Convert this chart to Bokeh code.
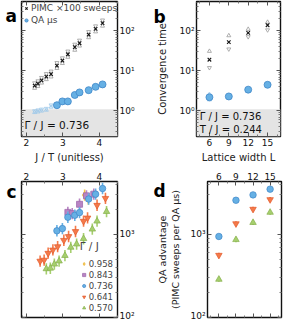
from bokeh.plotting import figure
from bokeh.models import (LogAxis, LinearAxis, FixedTicker, BoxAnnotation, Label,
                          Legend, LegendItem, Range1d)
from bokeh.layouts import row, column
from bokeh.embed import file_html
from bokeh.resources import INLINE

# ---------------- data ----------------
# panel a (Gamma/J = 0.736), x = J/T
a_x = [2.23, 2.32, 2.42, 2.55, 2.68, 2.84, 2.99, 3.14, 3.33, 3.46, 3.71, 3.90, 4.09]
a_pimc = [4.3, 4.8, 5.8, 7.2, 8.3, 13.6, 18, 26, 39, 49, 80, 112, 155]
a_pimc_hi = [5.0, 5.6, 6.8, 8.5, 9.8, 16, 21, 31, 46, 58, 95, 132, 185]
a_pimc_lo = [3.7, 4.1, 5.0, 6.1, 7.1, 11.6, 15.4, 22, 33, 42, 68, 95, 132]
a_qa_x = [2.84, 2.99, 3.14, 3.33, 3.46, 3.71, 3.90, 4.09]
a_qa = [1.39, 1.73, 1.73, 2.5, 2.9, 3.3, 4.0, 4.6]
a_qa_faint_x = [2.23, 2.32, 2.42, 2.55, 2.68]
a_qa_faint_hi = [1.0, 1.05, 1.1, 1.15, 1.4]
a_qa_faint_lo = [0.92, 0.95, 1.0, 1.05, 1.25]

# panel b (Gamma/J = 0.736, T/J = 0.244), x = lattice width L
b_L = [6, 9, 12, 15]
b_pimc = [19, 52, 89, 138]
b_pimc_hi = [31, 76, 110, 165]
b_pimc_lo = [12, 35, 71, 105]
b_qa = [2.2, 2.3, 3.4, 4.5]
b_qa_faint_L = [6, 6]
b_qa_faint = [2.6, 1.9]

# panel c: QA advantage vs J/T for several Gamma/J
c_x_958 = [3.60, 3.70]
c_y_958 = [2950, 2650]
c_x_843 = [3.14, 3.26, 3.46, 3.65, 3.85]
c_y_843 = [1830, 1770, 2290, 2890, 3030]
c_x_736 = [2.84, 2.99, 3.14, 3.33, 3.46, 3.71, 3.90, 4.09]
c_y_736 = [1100, 1170, 1600, 1690, 1820, 2650, 3030, 3540]
c_x_641 = [2.38, 2.49, 2.60, 2.73, 2.86, 3.03, 3.16, 3.35, 3.57, 3.68, 3.94, 4.17]
c_y_641 = [476, 489, 592, 648, 710, 846, 940, 1080, 1435, 1570, 2230, 2700]
c_x_570 = [2.55, 2.66, 2.77, 2.90, 3.06, 3.22, 3.38, 3.57, 3.81, 3.94, 4.20]
c_y_570 = [384, 390, 437, 476, 554, 696, 761, 884, 1150, 1435, 1870]

# panel d: QA advantage vs L
d_L = [6, 9, 12, 15]
d_736 = [940, 2560, 2970, 3480]
d_641 = [560, 1340, 2000, 2610]
d_570 = [287, 860, 1380, 1830]

gamma_labels = ["0.958", "0.843", "0.736", "0.641", "0.570"]

# ---------------- style ----------------
FONT = "DejaVu Sans"
TICK_FS = "9px"
LAB_FS = "10px"
BLUE_F, BLUE_L = "#66b0e4", "#3f86c8"
ORNG_F, ORNG_L = "#f47a4a", "#e25a2c"
GRN_F, GRN_L = "#a6cf6e", "#86b04c"
PURP_F, PURP_L = "#b884c4", "#9a62a8"
YEL_F, YEL_L = "#f7ca4c", "#eab132"
GRAY_BG = "#e4e4e4"

LOG_MINOR = [k * 10.0 ** e for e in range(-1, 4) for k in range(2, 10)]


def style_axis(ax, ticks, minor, overrides=None, show=True):
    ax.ticker = FixedTicker(ticks=ticks, minor_ticks=minor)
    ax.major_tick_in = 4
    ax.major_tick_out = 0
    ax.minor_tick_in = 2
    ax.minor_tick_out = 0
    ax.major_tick_line_color = "#555555"
    ax.minor_tick_line_color = "#777777"
    ax.axis_line_color = None
    ax.major_label_standoff = 2
    ax.major_label_text_font = FONT
    ax.major_label_text_font_size = TICK_FS
    ax.major_label_text_color = "#111111"
    ax.axis_label_text_font = FONT
    ax.axis_label_text_font_size = LAB_FS
    ax.axis_label_text_font_style = "normal"
    ax.axis_label_text_color = "#222222"
    ax.axis_label_standoff = 3
    if overrides:
        ax.major_label_overrides = overrides
    if not show:
        ax.major_label_text_font_size = "0px"
        ax.major_label_text_alpha = 0
        ax.major_label_standoff = 0


def base_fig(w, h, xr, yr, xloc, yloc, borders):
    p = figure(width=w, height=h, x_range=xr, y_range=yr, y_axis_type="log",
               x_axis_location=xloc, y_axis_location=yloc,
               toolbar_location=None, output_backend="svg",
               min_border_left=borders[0], min_border_right=borders[1],
               min_border_top=borders[2], min_border_bottom=borders[3])
    p.grid.visible = False
    p.outline_line_color = "#111111"
    p.outline_line_width = 1.4
    p.background_fill_color = "white"
    p.border_fill_color = "white"
    return p


dec_over = {0.1: "10⁻¹", 1: "10⁰", 10: "10¹", 100: "10²", 1000: "10³"}
jt_ticks = [2, 3, 4]
jt_minor = [1.9, 2.5, 3.5, 4.5]
L_ticks = [6, 9, 12, 15]
L_minor = [4.5, 7.5, 10.5, 13.5, 16.5]


def letter(p, txt, x, y):
    lab = Label(x=x, y=y, x_units="screen", y_units="screen", text=txt,
                text_font=FONT, text_font_style="bold", text_font_size="17px",
                text_color="#000000", text_baseline="alphabetic")
    p.add_layout(lab, "left")


# ---------------- panel a ----------------
pa = base_fig(142, 166, Range1d(1.87, 4.5), Range1d(0.23, 540), "below", "right",
              (21, 25, 1, 30))
style_axis(pa.xaxis[0], jt_ticks, jt_minor)
pa.xaxis[0].axis_label = "J / T (unitless)"
style_axis(pa.yaxis[0], [1, 10, 100], LOG_MINOR, dec_over)
ax = LogAxis(); style_axis(ax, [1, 10, 100], LOG_MINOR, show=False); pa.add_layout(ax, "left")
ax = LinearAxis(); style_axis(ax, jt_ticks, jt_minor, show=False); pa.add_layout(ax, "above")
pa.add_layout(BoxAnnotation(top=1.1, fill_color=GRAY_BG, fill_alpha=1.0, line_color=None,
                            level="underlay"))
pa.scatter(a_x, a_pimc_hi, marker="inverted_triangle", size=4, fill_color=None,
           line_color="#9a9a9a", line_width=0.8)
pa.scatter(a_x, a_pimc_lo, marker="triangle", size=4, fill_color=None,
           line_color="#9a9a9a", line_width=0.8)
r_pimc = pa.scatter(a_x, a_pimc, marker="x", size=5, line_color="#111111", line_width=1.1)
pa.scatter(a_qa_faint_x, a_qa_faint_hi, marker="inverted_triangle", size=4, fill_color=None,
           line_color="#9cc8ea", line_width=0.8)
pa.scatter(a_qa_faint_x, a_qa_faint_lo, marker="triangle", size=4, fill_color=None,
           line_color="#9cc8ea", line_width=0.8)
r_qa = pa.scatter(a_qa_x, a_qa, marker="circle", size=7, fill_color=BLUE_F,
                  line_color=BLUE_L, line_width=0.8)
leg_a = Legend(items=[LegendItem(label="PIMC ×100 sweeps", renderers=[r_pimc]),
                      LegendItem(label="QA μs", renderers=[r_qa])],
               location="top_left", margin=1, padding=1, spacing=0,
               label_text_font=FONT, label_text_font_size="9px", label_height=12,
               glyph_height=12, glyph_width=8, label_standoff=1,
               background_fill_alpha=0, border_line_color=None)
pa.add_layout(leg_a)
pa.add_layout(Label(x=1.95, y=0.45, text="Γ / J = 0.736", text_font=FONT,
                    text_font_size="10.5px", text_baseline="middle", text_color="#111111"))
letter(pa, "a", -5, 121)

# ---------------- panel b ----------------
pb = base_fig(141, 166, Range1d(4, 17), Range1d(0.23, 540), "below", "left",
              (50, 3, 1, 30))
style_axis(pb.xaxis[0], L_ticks, L_minor)
pb.xaxis[0].axis_label = "Lattice width L"
style_axis(pb.yaxis[0], [1, 10, 100], LOG_MINOR, dec_over)
pb.yaxis[0].axis_label = "Convergence time"
pb.yaxis[0].axis_label_standoff = 8
ax = LogAxis(); style_axis(ax, [1, 10, 100], LOG_MINOR, show=False); pb.add_layout(ax, "right")
ax = LinearAxis(); style_axis(ax, L_ticks, L_minor, show=False); pb.add_layout(ax, "above")
pb.add_layout(BoxAnnotation(top=1.1, fill_color=GRAY_BG, fill_alpha=1.0, line_color=None,
                            level="underlay"))
pb.scatter(b_L, b_pimc_hi, marker="triangle", size=4, fill_color=None,
           line_color="#9a9a9a", line_width=0.8)
pb.scatter(b_L, b_pimc_lo, marker="inverted_triangle", size=4, fill_color=None,
           line_color="#9a9a9a", line_width=0.8)
pb.scatter(b_L, b_pimc, marker="x", size=5, line_color="#111111", line_width=1.1)
pb.scatter(b_qa_faint_L, b_qa_faint, marker="triangle", size=4, fill_color=None,
           line_color="#9cc8ea", line_width=0.8)
pb.scatter(b_L, b_qa, marker="circle", size=7, fill_color=BLUE_F, line_color=BLUE_L,
           line_width=0.8)
pb.add_layout(Label(x=4.5, y=0.72, text="Γ / J = 0.736", text_font=FONT,
                    text_font_size="10px", text_baseline="middle", text_color="#111111"))
pb.add_layout(Label(x=4.5, y=0.34, text="T / J = 0.244", text_font=FONT,
                    text_font_size="10px", text_baseline="middle", text_color="#111111"))
letter(pb, "b", 11, 120)

# ---------------- panel c ----------------
pc = base_fig(142, 154, Range1d(1.87, 4.5), Range1d(100, 4300), "above", "right",
              (21, 25, 15, 3))
style_axis(pc.xaxis[0], jt_ticks, jt_minor)
style_axis(pc.yaxis[0], [100, 1000], LOG_MINOR, dec_over)
ax = LogAxis(); style_axis(ax, [100, 1000], LOG_MINOR, show=False); pc.add_layout(ax, "left")
ax = LinearAxis(); style_axis(ax, jt_ticks, jt_minor, show=False); pc.add_layout(ax, "below")

series_c = [
    (c_x_958, c_y_958, "diamond", YEL_F, YEL_L, 7),
    (c_x_843, c_y_843, "square", PURP_F, PURP_L, 6),
    (c_x_736, c_y_736, "circle", BLUE_F, BLUE_L, 6.5),
    (c_x_641, c_y_641, "inverted_triangle", ORNG_F, ORNG_L, 6.5),
    (c_x_570, c_y_570, "triangle", GRN_F, GRN_L, 6.5),
]
c_err = 1.17
leg_items = []
for (xs, ys, mk, fc, lc, sz), lab in zip(series_c, gamma_labels):
    pc.segment(x0=xs, y0=[v / c_err for v in ys], x1=xs, y1=[v * c_err for v in ys],
               line_color=fc, line_width=1.6)
    r = pc.scatter(xs, ys, marker=mk, size=sz, fill_color=fc, line_color=lc, line_width=0.7)
    leg_items.append(LegendItem(label=lab, renderers=[r]))
leg_c = Legend(items=leg_items, location="bottom_right", margin=4, padding=0, spacing=0,
               title="Γ / J", title_text_font=FONT, title_text_font_size="10.5px",
               title_text_font_style="normal", title_standoff=6,
               label_text_font=FONT, label_text_font_size="8.5px", label_height=11,
               glyph_height=11, glyph_width=8, label_standoff=1,
               background_fill_alpha=0, border_line_color=None)
pc.add_layout(leg_c)
letter(pc, "c", -5, 126)

# ---------------- panel d ----------------
pd_ = base_fig(141, 154, Range1d(4, 17), Range1d(100, 4300), "above", "left",
               (51, 2, 15, 3))
style_axis(pd_.xaxis[0], L_ticks, L_minor)
style_axis(pd_.yaxis[0], [100, 1000], LOG_MINOR, dec_over)
pd_.yaxis[0].axis_label = "QA advantage\n(PIMC sweeps per QA μs)"
pd_.yaxis[0].axis_label_text_font_size = "9.5px"
pd_.yaxis[0].axis_label_standoff = 6
ax = LogAxis(); style_axis(ax, [100, 1000], LOG_MINOR, show=False); pd_.add_layout(ax, "right")
ax = LinearAxis(); style_axis(ax, L_ticks, L_minor, show=False); pd_.add_layout(ax, "below")
d_err = 1.07
for ys, mk, fc, lc in [(d_736, "circle", BLUE_F, BLUE_L),
                       (d_641, "inverted_triangle", ORNG_F, ORNG_L),
                       (d_570, "triangle", GRN_F, GRN_L)]:
    pd_.segment(x0=d_L, y0=[v / d_err for v in ys], x1=d_L, y1=[v * d_err for v in ys],
                line_color=fc, line_width=1.6)
    pd_.scatter(d_L, ys, marker=mk, size=6.5, fill_color=fc, line_color=lc, line_width=0.7)
letter(pd_, "d", 11, 127)

layout = column(row(pa, pb), row(pc, pd_))
open("out.html", "w").write(file_html(layout, INLINE))
